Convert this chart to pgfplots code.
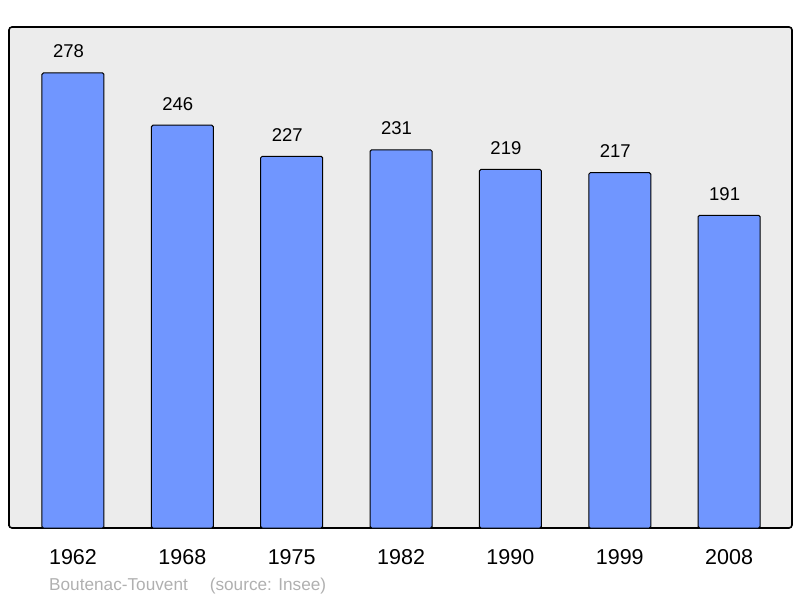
\documentclass[border=0pt]{standalone}
\usepackage{pgfplots}
\pgfplotsset{compat=1.18}
\usepackage{fontspec}
\setmainfont{Liberation Sans}
\definecolor{barblue}{RGB}{112,150,255}
\definecolor{bggrey}{RGB}{236,236,236}
\definecolor{srcgrey}{RGB}{176,176,176}
\begin{document}
\begin{tikzpicture}[x=1pt,y=1pt]
\useasboundingbox (0,0) rectangle (800,598);
\begin{axis}[
  at={(9pt,70pt)}, anchor=south west,
  scale only axis, width=783pt, height=501pt,
  xmin=-0.585, xmax=6.575, ymin=0, ymax=306,
  axis background/.style={fill=bggrey, rounded corners=3pt},
  axis line style={line width=1.6pt, rounded corners=3pt},
  ytick=\empty,
  xtick=data,
  xticklabels={1962,1968,1975,1982,1990,1999,2008},
  major tick length=0pt,
  xticklabel style={font=\fontsize{21.5}{24}\selectfont, anchor=base, yshift=-36.5pt, inner sep=0pt},
  /pgf/number format/assume math mode=true,
  ybar, bar width=62pt,
  nodes near coords,
  every node near coord/.append style={font=\fontsize{18.5}{20}\selectfont, anchor=base, yshift=15pt, xshift=-4.5pt, inner sep=0pt},
  clip=false,
]
\addplot[fill=barblue, draw=black, line width=1pt, rounded corners=1.5pt] coordinates {
(0,278) (1,246) (2,227) (3,231) (4,219) (5,217) (6,191)};
\end{axis}
\node[anchor=base west, inner sep=0pt, text=srcgrey, font=\fontsize{17.2}{19}\selectfont] at (49,8) {Boutenac-Touvent\hspace{22pt}(source: Insee)};
\end{tikzpicture}
\end{document}
